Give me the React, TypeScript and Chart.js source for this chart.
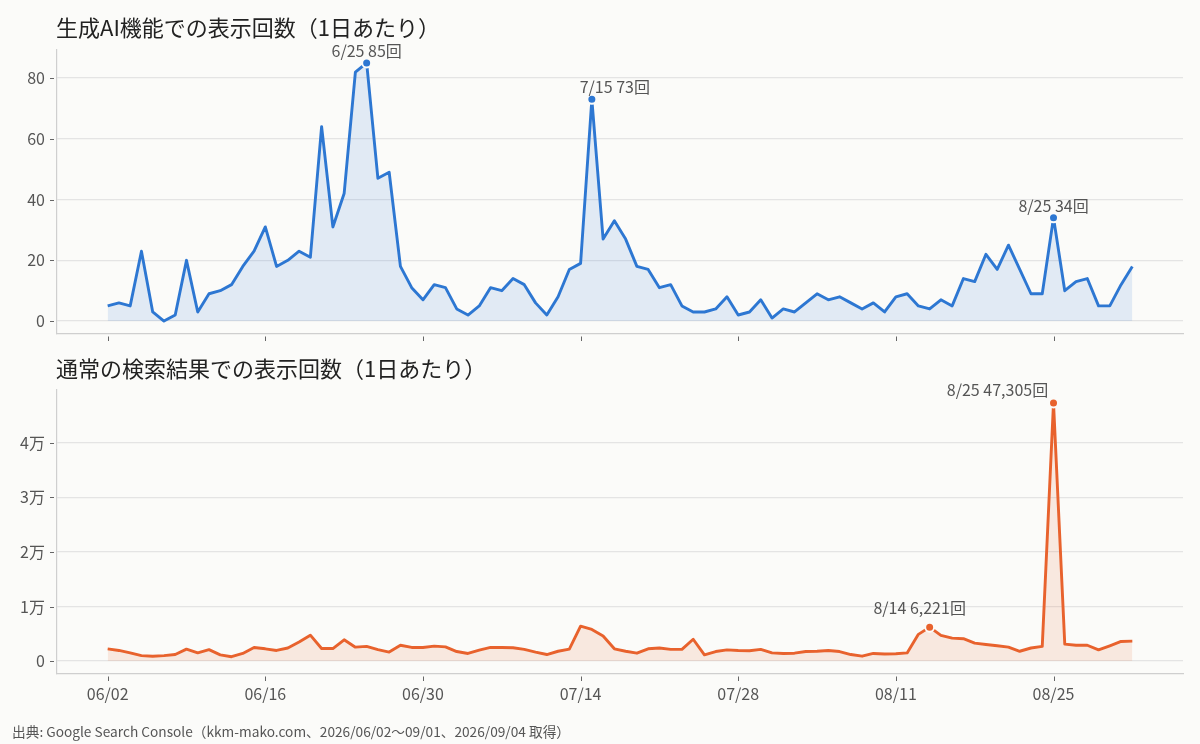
import React, { useEffect, useRef } from "react";
import { Chart, registerables } from "chart.js";

Chart.register(...registerables);

// ---- data ----
const dayTicks = [0, 14, 28, 42, 56, 70, 84];
const dayTickLabels = ["06/02", "06/16", "06/30", "07/14", "07/28", "08/11", "08/25"];

const aiTicks = [0, 20, 40, 60, 80];
const webTicks = [0, 10000, 20000, 30000, 40000];
const webTickLabels = ["0", "1万", "2万", "3万", "4万"];

const aiValues = [
  5, 6, 5, 23, 3, 0, 2, 20, 3, 9,
  10, 12, 18, 23, 31, 18, 20, 23, 21, 64,
  31, 42, 82, 85, 47, 49, 18, 11, 7, 12,
  11, 4, 2, 5, 11, 10, 14, 12, 6, 2,
  8, 17, 19, 73, 27, 33, 27, 18, 17, 11,
  12, 5, 3, 3, 4, 8, 2, 3, 7, 1,
  4, 3, 6, 9, 7, 8, 6, 4, 6, 3,
  8, 9, 5, 4, 7, 5, 14, 13, 22, 17,
  25, 17, 9, 9, 34, 10, 13, 14, 5, 5,
  12, 18,
];

const webValues = [
  2250, 1950, 1500, 1000, 900, 1000, 1200, 2200, 1500, 2100,
  1150, 800, 1400, 2500, 2250, 1950, 2400, 3500, 4750, 2300,
  2300, 3900, 2550, 2700, 2100, 1650, 2900, 2500, 2500, 2750,
  2600, 1750, 1400, 2000, 2500, 2500, 2450, 2150, 1650, 1200,
  1800, 2200, 6400, 5800, 4600, 2250, 1800, 1450, 2250, 2400,
  2150, 2150, 4000, 1150, 1750, 2050, 1950, 1900, 2150, 1500,
  1400, 1450, 1750, 1800, 1950, 1750, 1200, 900, 1400, 1300,
  1350, 1500, 4900, 6221, 4700, 4200, 4100, 3300, 3050, 2800,
  2550, 1800, 2400, 2700, 47305, 3100, 2900, 2900, 2050, 2800,
  3600, 3650,
];

const aiNoteDays = [23, 43, 84];
const aiNoteDates = ["6/25", "7/15", "8/25"];
const webNoteDays = [73, 84];
const webNoteDates = ["8/14", "8/25"];

// label placement (text centre relative to the point), kept apart from data
const aiNoteOffsets = [[0, -12], [23, -12], [0, -12]];
const webNoteOffsets = [[-10, -19], [-56, -13]];

const BG = "#fbfbf9";
const BLUE = "#2d77d2";
const ORANGE = "#e8622d";
const FONT = '"Noto Sans CJK JP", "Noto Sans", sans-serif';

function makeConfig(opts: {
  values: number[];
  color: string;
  fill: string;
  noteDays: number[];
  noteDates: string[];
  noteOffsets: number[][];
  yTicks: number[];
  yTickLabel: (v: number) => string;
  showX: boolean;
  title: string;
  titleY: number;
  padTop: number;
  xHeight: number;
}) {
  const vmax = Math.max(...opts.values);
  const overlay = {
    id: "overlay",
    afterDraw(chart: any) {
      const { ctx, chartArea, scales } = chart;
      ctx.save();
      ctx.strokeStyle = "#666";
      ctx.lineWidth = 1;
      for (const v of dayTicks) {
        const px = Math.round(scales.x.getPixelForValue(v)) + 0.5;
        ctx.beginPath();
        ctx.moveTo(px, chartArea.bottom + 2.5);
        ctx.lineTo(px, chartArea.bottom + 7);
        ctx.stroke();
      }
      for (const t of scales.y.ticks) {
        const py = Math.round(scales.y.getPixelForValue(t.value)) + 0.5;
        ctx.beginPath();
        ctx.moveTo(chartArea.left - 7, py);
        ctx.lineTo(chartArea.left - 3, py);
        ctx.stroke();
      }
      ctx.font = `22px ${FONT}`;
      ctx.fillStyle = "#222";
      ctx.textAlign = "left";
      ctx.textBaseline = "middle";
      ctx.fillText(opts.title, chartArea.left - 1, opts.titleY);
      ctx.font = `16px ${FONT}`;
      ctx.fillStyle = "#555";
      ctx.textAlign = "center";
      opts.noteDays.forEach((d, k) => {
        const v = opts.values[d];
        const px = scales.x.getPixelForValue(d);
        const py = scales.y.getPixelForValue(v);
        const [dx, dy] = opts.noteOffsets[k];
        ctx.fillText(`${opts.noteDates[k]} ${v.toLocaleString("en-US")}回`, px + dx, py + dy);
      });
      ctx.restore();
    },
  };
  return {
    type: "line" as const,
    data: {
      datasets: [
        {
          data: opts.values.map((v, i) => ({ x: i, y: v })),
          borderColor: opts.color,
          backgroundColor: opts.fill,
          borderWidth: 2.9,
          borderJoinStyle: "round" as const,
          tension: 0,
          fill: "origin",
          pointRadius: opts.values.map((_, i) => (opts.noteDays.includes(i) ? 4.5 : 0)),
          pointHoverRadius: 0,
          pointBackgroundColor: opts.color,
          pointBorderColor: BG,
          pointBorderWidth: 2,
        },
      ],
    },
    options: {
      responsive: false,
      animation: false as const,
      events: [],
      layout: { padding: { top: opts.padTop, left: 0, right: 17, bottom: 0 } },
      plugins: { legend: { display: false }, tooltip: { enabled: false }, title: { display: false } },
      scales: {
        x: {
          type: "linear" as const,
          min: -4.5,
          max: 95.5,
          afterBuildTicks: (s: any) => {
            s.ticks = dayTicks.map((v) => ({ value: v }));
          },
          afterFit: (s: any) => {
            s.height = opts.xHeight;
            s.paddingLeft = 0;
            s.paddingRight = 0;
          },
          grid: { display: false, drawTicks: false },
          border: { display: true, color: "#cfcfcf", width: 1.2 },
          ticks: {
            display: opts.showX,
            padding: 10,
            color: "#555",
            font: { family: FONT, size: 16 },
            maxRotation: 0,
            autoSkip: false,
            callback: (v: any) => {
              const k = dayTicks.indexOf(Number(v));
              return k >= 0 ? dayTickLabels[k] : "";
            },
          },
        },
        y: {
          type: "linear" as const,
          min: -vmax * 0.05,
          max: vmax * 1.05,
          afterBuildTicks: (s: any) => {
            s.ticks = opts.yTicks.map((v) => ({ value: v }));
          },
          afterFit: (s: any) => {
            s.width = 57;
            s.paddingTop = 0;
            s.paddingBottom = 0;
          },
          grid: { color: "#e4e4e4", lineWidth: 1.2, drawTicks: false },
          border: { display: true, color: "#cfcfcf", width: 1.2 },
          ticks: {
            padding: 12,
            color: "#555",
            font: { family: FONT, size: 16 },
            callback: (v: any) => opts.yTickLabel(Number(v)),
          },
        },
      },
    },
    plugins: [overlay],
  };
}

export default function App() {
  const ref1 = useRef<HTMLCanvasElement>(null);
  const ref2 = useRef<HTMLCanvasElement>(null);

  useEffect(() => {
    const c1 = new Chart(
      ref1.current as HTMLCanvasElement,
      makeConfig({
        values: aiValues,
        color: BLUE,
        fill: "rgba(45,119,210,0.12)",
        noteDays: aiNoteDays,
        noteDates: aiNoteDates,
        noteOffsets: aiNoteOffsets,
        yTicks: aiTicks,
        yTickLabel: (v) => String(v),
        showX: false,
        title: "生成AI機能での表示回数（1日あたり）",
        titleY: 28,
        padTop: 50,
        xHeight: 11,
      }) as any
    );
    const c2 = new Chart(
      ref2.current as HTMLCanvasElement,
      makeConfig({
        values: webValues,
        color: ORANGE,
        fill: "rgba(232,98,45,0.12)",
        noteDays: webNoteDays,
        noteDates: webNoteDates,
        noteOffsets: webNoteOffsets,
        yTicks: webTicks,
        yTickLabel: (v) => {
          const k = webTicks.indexOf(v);
          return k >= 0 ? webTickLabels[k] : "";
        },
        showX: true,
        title: "通常の検索結果での表示回数（1日あたり）",
        titleY: 24,
        padTop: 45,
        xHeight: 70,
      }) as any
    );
    return () => {
      c1.destroy();
      c2.destroy();
    };
  }, []);

  return (
    <div
      style={{
        position: "absolute",
        left: 0,
        top: 0,
        width: 1200,
        height: 744,
        background: BG,
        overflow: "hidden",
      }}
    >
      <canvas
        ref={ref1}
        width={1200}
        height={345}
        style={{ position: "absolute", left: 0, top: 0, width: 1200, height: 345 }}
      />
      <canvas
        ref={ref2}
        width={1200}
        height={399}
        style={{ position: "absolute", left: 0, top: 345, width: 1200, height: 399 }}
      />
      <div
        style={{
          position: "absolute",
          left: 12,
          top: 721,
          fontFamily: FONT,
          fontSize: 13.7,
          lineHeight: "20px",
          color: "#555",
          whiteSpace: "nowrap",
        }}
      >
        出典: Google Search Console（kkm-mako.com、2026/06/02〜09/01、2026/09/04 取得）
      </div>
    </div>
  );
}
